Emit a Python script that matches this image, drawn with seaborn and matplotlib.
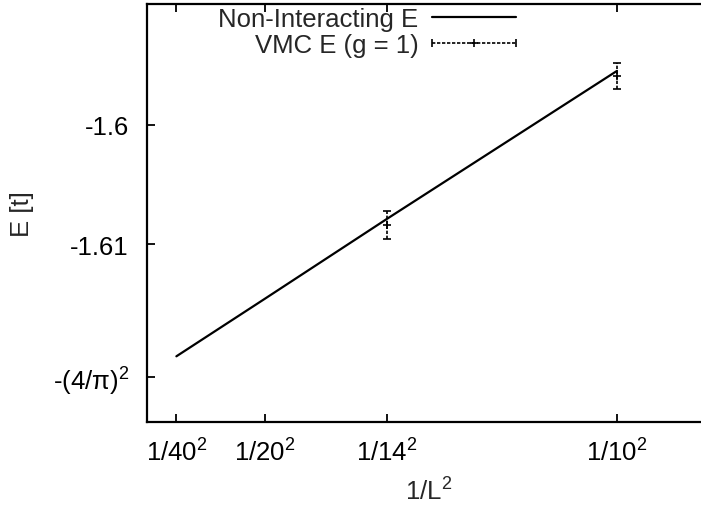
import numpy as np
import pandas as pd
import matplotlib
matplotlib.use("Agg")
import matplotlib.pyplot as plt
import seaborn as sns
from matplotlib.lines import Line2D
from matplotlib.legend_handler import HandlerLine2D, HandlerTuple

# ---- data ----
L_nonint = [40, 20, 14, 10]
E_nonint = [-1.6194, -1.6146, -1.6079, -1.5955]

L_vmc = [14, 10]
E_vmc = [-1.6084, -1.5959]
E_vmc_err = [0.0012, 0.0011]

xtick_L = [40, 20, 14, 10]
xtick_labels = ["1/40$^2$", "1/20$^2$", "1/14$^2$", "1/10$^2$"]
ytick_vals = [-1.6, -1.61, -(4 / np.pi) ** 2]
ytick_labels = ["-1.6", "-1.61", "-(4/π)$^2$"]

legend_labels = ["Non-Interacting E", "VMC E (g = 1)"]

# ---- style ----
FS = 18.5
sns.set_style("ticks")
plt.rcParams.update({
    "font.family": ["Liberation Sans", "DejaVu Sans"],
    "mathtext.fontset": "custom",
    "mathtext.rm": "Liberation Sans",
    "mathtext.it": "Liberation Sans:italic",
    "mathtext.bf": "Liberation Sans:bold",
    "font.size": FS,
})

fig = plt.figure(figsize=(7.01, 5.06), dpi=100)
W, H = 701, 506
ax = fig.add_axes([147 / W, 1 - 423 / H, (711 - 147) / W, (423 - 5) / H])

df_non = pd.DataFrame({"x": 1 / np.array(L_nonint, dtype=float) ** 2, "E": E_nonint})
df_vmc = pd.DataFrame({"x": 1 / np.array(L_vmc, dtype=float) ** 2, "E": E_vmc, "err": E_vmc_err})

sns.lineplot(data=df_non, x="x", y="E", ax=ax, color="black", lw=1.6, legend=False)

eb = ax.errorbar(df_vmc["x"], df_vmc["E"], yerr=df_vmc["err"], fmt="none",
                 ecolor="black", elinewidth=1.2, capsize=3, capthick=1.2)
eb[2][0].set_linestyle((0, (2, 1)))
sns.scatterplot(data=df_vmc, x="x", y="E", ax=ax, marker="+", s=30,
                color="black", linewidth=1.2, legend=False, zorder=3)

ax.set_xlim(0, 0.012)
ax.set_ylim(-1.6249, -1.5899)

ax.set_xticks(1 / np.array(xtick_L, dtype=float) ** 2)
ax.set_xticklabels(xtick_labels)
ax.set_yticks(ytick_vals)
ax.set_yticklabels(ytick_labels)
ax.minorticks_off()
ax.tick_params(axis="both", direction="in", length=6, width=1.3,
               top=True, right=True, colors="black", labelsize=FS)
ax.tick_params(axis="x", pad=12)
ax.tick_params(axis="y", pad=13)

for sp in ax.spines.values():
    sp.set_linewidth(1.6)
    sp.set_color("black")
    sp.set_visible(True)

ax.set_xlabel("1/L$^2$", fontsize=FS, labelpad=8)
ax.set_ylabel("E [t]", fontsize=FS)
ax.yaxis.set_label_coords(-0.2, 0.5)

h1 = Line2D([], [], color="black", lw=1.6)
h2_line = Line2D([], [], color="black", lw=1.2, ls=(0, (2, 1)), marker="+", ms=6, mew=1.2)
h2_caps = Line2D([], [], color="black", lw=0, marker="|", ms=6, mew=1.2)
ax.legend([h1, (h2_line, h2_caps)], legend_labels,
          handler_map={tuple: HandlerTuple(ndivide=1, pad=0),
                       h2_caps: HandlerLine2D(numpoints=2, marker_pad=0)},
          markerfirst=False, frameon=False, loc="upper right",
          bbox_to_anchor=(516 / W, 1 - 8 / H), bbox_transform=fig.transFigure,
          borderpad=0, borderaxespad=0, handlelength=3.25, handletextpad=0.55,
          labelspacing=0.07, numpoints=1, fontsize=FS)

fig.savefig("out.png", dpi=100)
